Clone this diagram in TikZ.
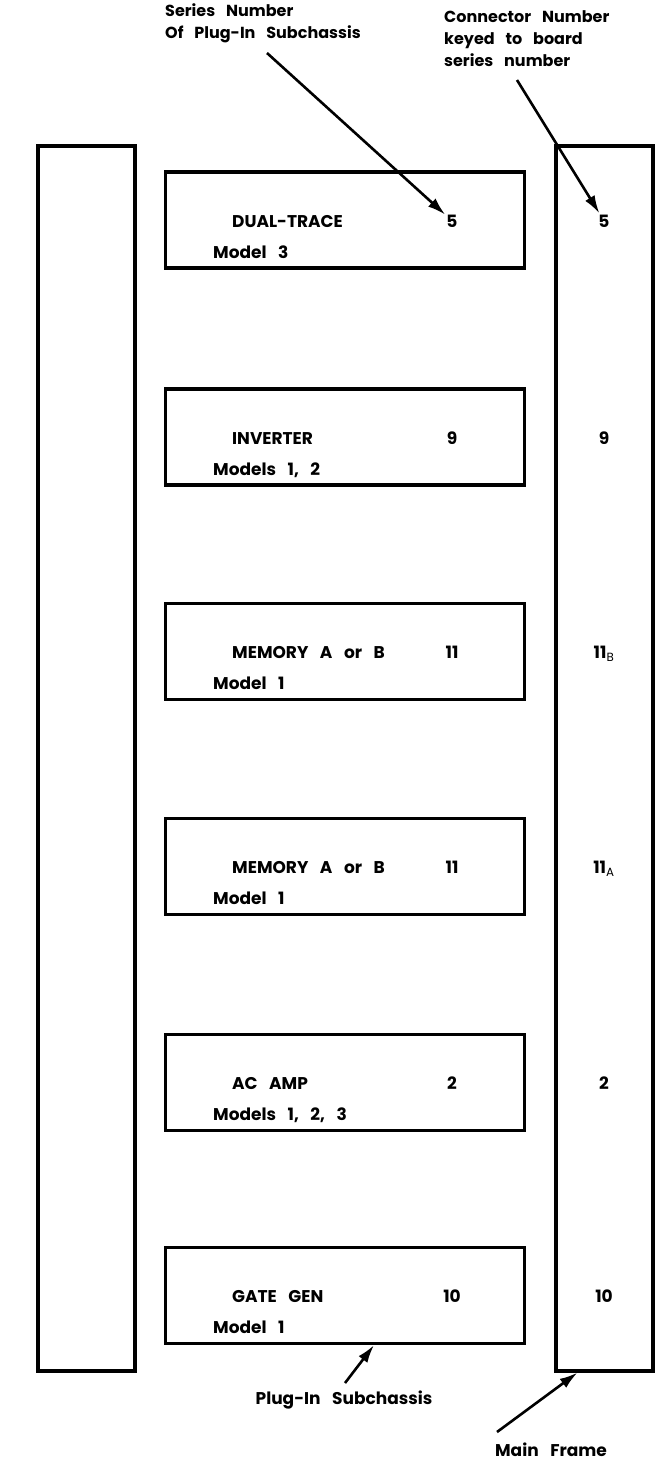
\documentclass[tikz,border=0pt]{standalone}
\usepackage{fontspec}
\setmainfont{Poppins}[WordSpace=3.2]
\usepackage{tikz}
\usetikzlibrary{arrows.meta,positioning}
\tikzset{
  rail/.style={draw, line width=3.2pt, minimum width=97pt, minimum height=1225pt, inner sep=0pt},
  subbox/.style={draw, line width=3.2pt, minimum width=359pt, minimum height=96pt, inner sep=0pt},
  title/.style={anchor=base west, inner sep=1pt, font=\bfseries\fontsize{17}{18}\selectfont},
  model/.style={anchor=base west, inner sep=1pt, font=\bfseries\fontsize{17}{18}\selectfont},
  num/.style={anchor=base, inner sep=1pt, font=\bfseries\fontsize{17}{18}\selectfont},
  note/.style={anchor=north west, align=left, inner sep=0pt, font=\bfseries\fontsize{16}{22}\selectfont},
  ptr/.style={-{Latex[length=18pt,width=11pt]}, line width=2.6pt},
}

\begin{document}
\begin{tikzpicture}[x=1pt, y=-1pt]
    \useasboundingbox (0,0) rectangle (667,1462);
    % main frame rails
    \node[rail] (lrail) at (86.5,758.5) {};
    \node[rail] (rrail) at (604.5,758.5) {};
    % plug-in subchassis, series number and connector number
    \foreach \i/\yc/\ttl/\mdl/\sn/\cn in {
        1/220/{DUAL-TRACE}/{Model 3}/5/5,
        2/437/{INVERTER}/{Models 1, 2}/9/9,
        3/651.5/{MEMORY A or B}/{Model 1}/11/{11$_{\mathrm{B}}$},
        4/866.5/{MEMORY A or B}/{Model 1}/11/{11$_{\mathrm{A}}$},
        5/1082.5/{AC AMP}/{Models 1, 2, 3}/2/2,
        6/1295.5/{GATE GEN}/{Model 1}/10/10} {
      \node[subbox] (b\i) at (345,\yc) {};
      \node[title] (t\i) at (231,{\yc+7}) {\ttl};
      \node[model] (m\i) at (212,{\yc+38}) {\mdl};
      \node[num] (n\i) at (452,{\yc+7}) {\sn};
      \node[num] (c\i) at (604,{\yc+7}) {\cn};
    }
    % callouts
    \node[note] (snl) at (165,3) {Series Number\\Of Plug-In Subchassis};
    \node[note] (cnl) at (444,10) {Connector Number\\keyed to board\\series number};
    \node[num] (psl) at (344,1404) {Plug-In Subchassis};
    \node[num] (mfl) at (551,1456) {Main Frame};
    \coordinate (snt) at (267,53);
    \coordinate (cnt) at (517,80);
    \coordinate (pst) at (345,1383);
    \coordinate (mft) at (497,1432);
    \draw[ptr] (snt) -- (n1);
    \draw[ptr] (cnt) -- (c1);
    \draw[ptr] (pst) -- ([xshift=29pt]b6.south);
    \draw[ptr] (mft) -- ([xshift=-27pt]rrail.south);
\end{tikzpicture}
\end{document}
